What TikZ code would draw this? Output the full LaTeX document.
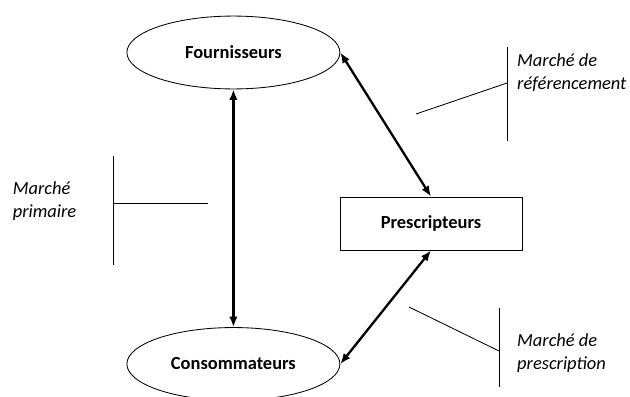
\documentclass[tikz,border=0pt]{standalone}
\usepackage{fontspec}
\setmainfont{Carlito}
\usetikzlibrary{shapes,arrows.meta,positioning}
\tikzset{
    auto,semithick,
    acteur/.style ={ellipse, draw, thick, minimum width = 7.1cm, minimum height = 2.43cm,
        font=\bfseries\fontsize{17.5}{20}\selectfont},
    flux/.style={{Latex[length=10pt,width=8pt]}-{Latex[length=10pt,width=8pt]}, line width=2.2pt},
    marche/.style = {inner sep=0pt, anchor=west, align=left, font=\itshape\fontsize{17.5}{21.5}\selectfont},
    trait/.style = {thick, line cap=butt}
}

\begin{document}
\begin{tikzpicture}
    \useasboundingbox (0,0) rectangle (21,-13.233);
    \node[acteur] (f) at (7.78,-1.75) {Fournisseurs};
      \node[acteur] (c) at (7.78,-12.133) {Consommateurs};
      \node[acteur, rectangle, minimum width=6.067cm, minimum height=1.767cm] (p) at (14.367,-7.45) {Prescripteurs};

      \path[flux] (f) edge (c);
       \path[flux] (p.north) edge (f.east);
       \path[flux] (p.south) edge (c.east);

    % marche primaire
    \node[marche] (mp) at (0.42,-6.7) {Marché\\primaire};
      \coordinate (mp1) at (3.767,-5.2);
      \coordinate (mp2) at (3.767,-8.833);
      \coordinate (mp3) at (3.767,-6.767);
      \coordinate (mp4) at (6.933,-6.767);
      \draw[trait] (mp1) -- (mp2);
      \draw[trait] (mp3) -- (mp4);

    % marche de referencement
    \node[marche] (mr) at (17.233,-2.433) {Marché de\\référencement};
      \coordinate (mr1) at (16.9,-1.567);
      \coordinate (mr2) at (16.9,-4.7);
      \coordinate (mr3) at (16.9,-2.767);
      \coordinate (mr4) at (13.867,-3.8);
      \draw[trait] (mr1) -- (mr2);
      \draw[trait] (mr3) -- (mr4);

    % marche de prescription
    \node[marche] (mpr) at (17.233,-11.767) {Marché de\\prescription};
      \coordinate (mpr1) at (16.633,-10.267);
      \coordinate (mpr2) at (16.633,-12.9);
      \coordinate (mpr3) at (16.633,-11.7);
      \coordinate (mpr4) at (13.633,-10.233);
      \draw[trait] (mpr1) -- (mpr2);
      \draw[trait] (mpr3) -- (mpr4);

\end{tikzpicture}
\end{document}
